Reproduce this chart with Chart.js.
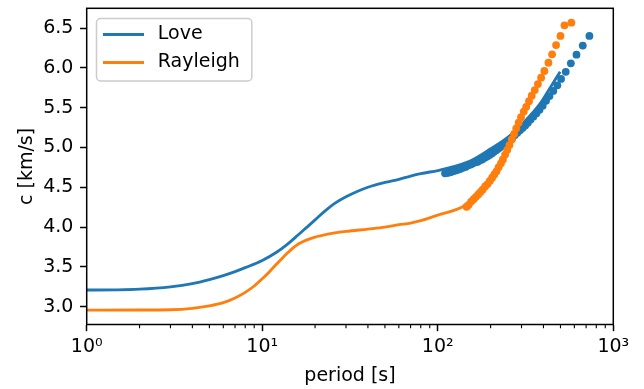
<!DOCTYPE html>
<html>
<head>
<meta charset="utf-8">
<script src="https://cdn.jsdelivr.net/npm/chart.js@4"></script>
<style>
  html, body { margin: 0; padding: 0; background: #fff; }
  canvas { display: block; }
</style>
</head>
<body>
<canvas id="dispersionChart" width="644" height="389"></canvas>
<script>
// ==============================
// Data
// ==============================
const lovePeriod = [1, 1.5, 2, 3, 4, 5, 6, 7, 8, 10, 12, 14, 16, 18, 20, 23, 26, 30, 35, 40,
    50, 60, 70, 80, 100, 110, 153, 199, 258, 314, 383, 437, 498];
const loveC = [3.21, 3.212, 3.22, 3.25, 3.29, 3.34, 3.39, 3.44, 3.49, 3.58, 3.68, 3.79, 3.90, 4.00,
    4.09, 4.21, 4.30, 4.38, 4.45, 4.50, 4.56, 4.60, 4.64, 4.67, 4.71, 4.73, 4.83, 4.98, 5.15,
    5.33, 5.55, 5.75, 5.95];

const rayleighPeriod = [1, 2, 3, 4, 5, 6, 7, 8, 9, 10, 11, 12, 13, 14, 15, 16, 17, 18, 20, 22,
    25, 30, 40, 50, 60, 70, 80, 100, 120, 137, 150, 170, 200];
const rayleighC = [2.957, 2.958, 2.962, 2.98, 3.01, 3.05, 3.11, 3.18, 3.26, 3.35, 3.44, 3.53,
    3.61, 3.68, 3.74, 3.785, 3.815, 3.84, 3.875, 3.895, 3.92, 3.945, 3.975, 4.00, 4.03, 4.05,
    4.08, 4.15, 4.20, 4.25, 4.30, 4.41, 4.60];

const loveDotPeriod = [731, 670, 617, 573, 536, 504, 480, 455, 433, 414, 396, 380, 365, 351, 338,
    326, 315, 304, 294, 284, 275, 266, 258, 250, 242, 235, 228, 221, 215, 209, 203, 197, 191,
    185, 179, 174, 169, 164, 159, 154, 149, 144, 139, 134, 130, 126, 122, 118, 114, 110];
const loveDotC = [6.40, 6.28, 6.165, 6.056, 5.95, 5.86, 5.78, 5.71, 5.645, 5.585, 5.525, 5.475,
    5.43, 5.39, 5.35, 5.31, 5.275, 5.245, 5.215, 5.185, 5.155, 5.125, 5.095, 5.075, 5.045, 5.025,
    5.005, 4.985, 4.965, 4.945, 4.925, 4.905, 4.885, 4.87, 4.85, 4.84, 4.82, 4.815, 4.80, 4.785,
    4.775, 4.755, 4.745, 4.73, 4.72, 4.71, 4.70, 4.69, 4.68, 4.675];

const rayleighDotPeriod = [577, 527, 500, 472, 448, 427, 405, 388, 372, 357, 343, 331, 319, 309,
    298, 289, 280, 272, 264, 256, 249, 242, 235, 229, 222, 216, 210, 204, 198, 192, 186, 180,
    175, 170, 165, 160, 155, 150, 146];
const rayleighDotC = [6.567, 6.534, 6.40, 6.286, 6.17, 6.064, 5.96, 5.876, 5.796, 5.72, 5.65,
    5.58, 5.51, 5.45, 5.38, 5.31, 5.24, 5.17, 5.10, 5.03, 4.97, 4.91, 4.85, 4.80, 4.75, 4.70,
    4.66, 4.62, 4.58, 4.54, 4.51, 4.47, 4.44, 4.41, 4.38, 4.35, 4.32, 4.28, 4.255];

const xMajorTicks = [1, 10, 100, 1000];
const xTickLabels = ["10\u2070", "10\u00b9", "10\u00b2", "10\u00b3"];
const xMinorTicks = [2, 3, 4, 5, 6, 7, 8, 9, 20, 30, 40, 50, 60, 70, 80, 90,
    200, 300, 400, 500, 600, 700, 800, 900];
const yTicks = [3.0, 3.5, 4.0, 4.5, 5.0, 5.5, 6.0, 6.5];
const yMin = 2.7765;
const yMax = 6.7475;

const BLUE = "#1f77b4";
const ORANGE = "#ff7f0e";

const toPoints = (xs, ys) => xs.map((x, i) => ({ x: x, y: ys[i] }));

// legend handle drawn as a short line
function handle(color) {
    const c = document.createElement("canvas");
    c.width = 41;
    c.height = 3;
    const g = c.getContext("2d");
    g.fillStyle = color;
    g.fillRect(0, 0, 41, 3);
    return c;
}

// frame, minor ticks and legend box
const axesFrame = {
    id: "axesFrame",
    afterLayout(chart) {
        const lg = chart.legend;
        lg.left = chart.chartArea.left + 3.3;
        lg.top = chart.chartArea.top + 6.9;
        lg.right = lg.left + 300;
        lg.bottom = lg.top + 200;
    },
    beforeDraw(chart) {
        const lg = chart.legend;
        const ctx = chart.ctx;
        const pad = lg.options.labels.padding;
        ctx.save();
        ctx.font = "19px 'DejaVu Sans'";
        const textW = Math.max(...lg.legendItems.map(it => ctx.measureText(it.text).width));
        const textX = lg.left + pad + 49 + 9.5;
        const x0 = lg.left + 6.5, y0 = lg.top + 3.3;
        const w = textX + textW + 12 - x0, h = 62.5;
        ctx.beginPath();
        ctx.roundRect(x0, y0, w, h, 4);
        ctx.fillStyle = "rgba(255,255,255,0.8)";
        ctx.fill();
        ctx.lineWidth = 1.5;
        ctx.strokeStyle = "#cccccc";
        ctx.stroke();
        ctx.restore();
    },
    afterDatasetsDraw(chart) {
        const ctx = chart.ctx;
        const ca = chart.chartArea;
        const xs = chart.scales.x;
        ctx.save();
        ctx.strokeStyle = "#000";
        ctx.lineWidth = 1.1;
        xMinorTicks.forEach(v => {
            const px = xs.getPixelForValue(v);
            ctx.beginPath();
            ctx.moveTo(px, ca.bottom);
            ctx.lineTo(px, ca.bottom + 3.8);
            ctx.stroke();
        });
        ctx.lineWidth = 1.5;
        ctx.strokeRect(ca.left, ca.top, ca.right - ca.left, ca.bottom - ca.top);
        ctx.restore();
    }
};

Chart.defaults.font.family = "'DejaVu Sans'";
Chart.defaults.font.size = 19;
Chart.defaults.color = "#000";

new Chart(document.getElementById("dispersionChart"), {
    type: "line",
    data: {
        datasets: [
            {
                label: "Love",
                data: toPoints(lovePeriod, loveC),
                borderColor: BLUE,
                backgroundColor: BLUE,
                borderWidth: 2.85,
                pointRadius: 0,
                cubicInterpolationMode: "monotone",
                order: 4
            },
            {
                label: "Rayleigh",
                data: toPoints(rayleighPeriod, rayleighC),
                borderColor: ORANGE,
                backgroundColor: ORANGE,
                borderWidth: 2.85,
                pointRadius: 0,
                cubicInterpolationMode: "monotone",
                order: 3
            },
            {
                label: "Love (points)",
                data: toPoints(loveDotPeriod, loveDotC),
                showLine: false,
                pointRadius: 3.9,
                pointBorderWidth: 0,
                pointBackgroundColor: BLUE,
                borderColor: BLUE,
                order: 2
            },
            {
                label: "Rayleigh (points)",
                data: toPoints(rayleighDotPeriod, rayleighDotC),
                showLine: false,
                pointRadius: 3.9,
                pointBorderWidth: 0,
                pointBackgroundColor: ORANGE,
                borderColor: ORANGE,
                order: 1
            }
        ]
    },
    options: {
        responsive: false,
        devicePixelRatio: 1,
        animation: false,
        events: [],
        layout: { padding: { left: 0, top: 8.3, right: 30.7, bottom: 0 } },
        plugins: {
            tooltip: { enabled: false },
            legend: {
                position: "chartArea",
                align: "start",
                labels: {
                    padding: 9.3,
                    usePointStyle: true,
                    pointStyleWidth: 49,
                    font: { size: 19 },
                    color: "#000",
                    filter: item => item.datasetIndex < 2,
                    sort: (a, b) => a.datasetIndex - b.datasetIndex,
                    generateLabels: chart => chart.data.datasets.map((ds, i) => ({
                        text: ds.label,
                        datasetIndex: i,
                        fillStyle: ds.borderColor,
                        strokeStyle: ds.borderColor,
                        lineWidth: 0,
                        pointStyle: handle(ds.borderColor),
                        hidden: false
                    }))
                }
            }
        },
        scales: {
            x: {
                type: "logarithmic",
                min: 1,
                max: 1000,
                afterBuildTicks: s => { s.ticks = xMajorTicks.map(v => ({ value: v })); },
                afterFit: s => { s.height = 64.5; s.paddingLeft = 0; s.paddingRight = 0; },
                ticks: {
                    autoSkip: false,
                    maxRotation: 0,
                    padding: 5,
                    callback: (v, i) => xTickLabels[i]
                },
                grid: { drawOnChartArea: false, tickLength: 6.65, tickWidth: 1.5, tickColor: "#000" },
                border: { display: false },
                title: { display: true, text: "period [s]", padding: { top: 0, bottom: 1.6 } }
            },
            y: {
                type: "linear",
                min: yMin,
                max: yMax,
                afterBuildTicks: s => { s.ticks = yTicks.map(v => ({ value: v })); },
                afterFit: s => { s.width = 86.7; s.paddingTop = 0; s.paddingBottom = 0; },
                ticks: { padding: 6.65, callback: v => v.toFixed(1) },
                grid: { drawOnChartArea: false, tickLength: 6.65, tickWidth: 1.5, tickColor: "#000" },
                border: { display: false },
                title: { display: true, text: "c [km/s]", padding: { top: 15.6, bottom: 0 } }
            }
        }
    },
    plugins: [axesFrame]
});
</script>
</body>
</html>
